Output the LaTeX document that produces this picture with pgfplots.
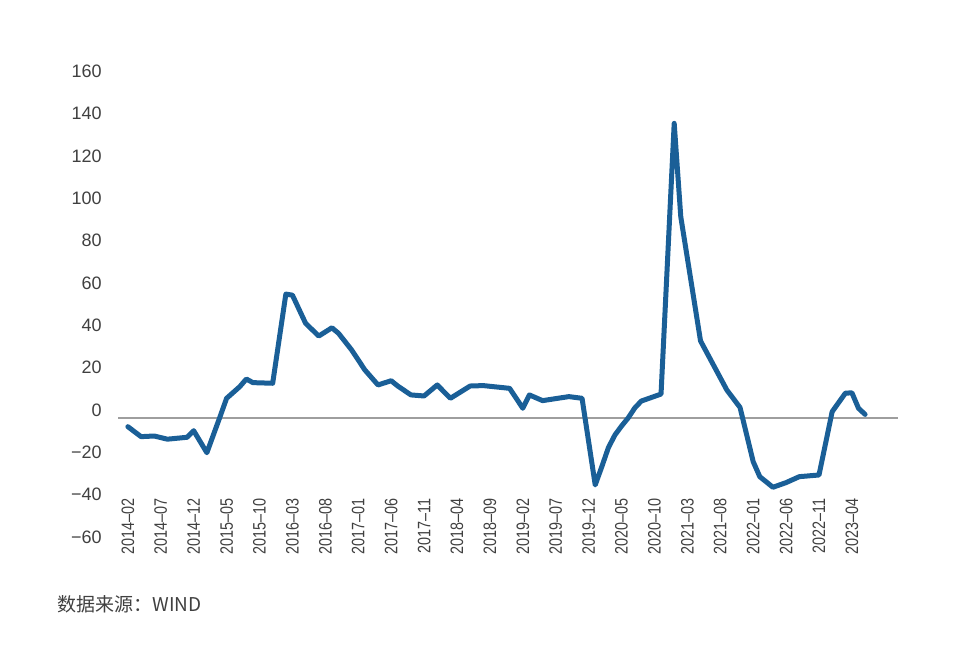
\documentclass[border=0pt]{standalone}
\usepackage{pgfplots}
\pgfplotsset{compat=1.18}
\usepackage{fontspec}
\setmainfont{Liberation Sans}
\newfontfamily\cjk{Noto Sans CJK SC}
\definecolor{lineblue}{HTML}{1A5F97}
\definecolor{txt}{HTML}{404040}
\newcommand\xl[1]{\scalebox{0.8}[1]{#1}}
\begin{document}
\begin{tikzpicture}
\useasboundingbox (0,0) rectangle (480pt,326.5pt);
\begin{axis}[
  at={(59pt,53.95pt)}, anchor=south west,
  scale only axis, width=390pt, height=233pt,
  xmin=-1.5, xmax=117, ymin=-60, ymax=160,
  axis line style={draw=none},
  major tick length=0pt,
  ytick={-60,-40,...,160},
  yticklabels={−60,−40,−20,0,20,40,60,80,100,120,140,160},
  yticklabel style={anchor=east, inner sep=0pt, xshift=-8pt, yshift=4pt, font=\fontsize{9}{10}\selectfont, text=txt},
  xtick={0,5,...,110},
  xticklabels={\xl{2014–02},\xl{2014–07},\xl{2014–12},\xl{2015–05},\xl{2015–10},\xl{2016–03},\xl{2016–08},\xl{2017–01},\xl{2017–06},\xl{2017–11},\xl{2018–04},\xl{2018–09},\xl{2019–02},\xl{2019–07},\xl{2019–12},\xl{2020–05},\xl{2020–10},\xl{2021–03},\xl{2021–08},\xl{2022–01},\xl{2022–06},\xl{2022–11},\xl{2023–04}},
  xticklabel style={rotate=90, anchor=east, inner sep=0pt, font=\fontsize{9}{10}\selectfont, text=txt},
  xticklabel shift=-23.5pt,
  extra y ticks={0},
  extra y tick labels={},
  extra y tick style={grid=major, major grid style={draw=black!38, line width=0.6pt}},
  clip=false,
]
\addplot[lineblue, line width=2.5pt, line join=round, line cap=round] coordinates {
(0,-4.1) (2,-8.8) (4,-8.5) (6,-10.0) (9,-9.1) (10,-6.0) (12,-16.4) (14,0.6)
(15,9.3) (17,14.8) (18,18.4) (19,16.7) (22,16.4) (24,58.5) (25,58.0) (27,44.7)
(29,38.7) (31,42.6) (32,40.0) (34,32.1) (36,22.7) (38,15.6) (40,17.6) (41,15.1)
(43,10.9) (45,10.4) (47,15.6) (49,9.3) (52,15.1) (54,15.3) (58,14.0) (60,4.6)
(61,10.9) (63,8.2) (67,10.1) (69,9.3) (71,-31.6) (72,-23.0) (73,-14.0) (74,-8.0)
(75,-3.8) (76,0.0) (77,4.7) (78,8.0) (81,11.3) (83,139.1) (84,95.0) (87,36.4)
(91,13.2) (93,5.0) (95,-20.6) (96,-27.7) (98,-32.7) (100,-30.5) (102,-27.7)
(105,-26.9) (107,3.0) (109,11.7) (110,11.9) (111,4.6) (112,1.7)
};
\end{axis}
\node[anchor=west, inner sep=0pt, font=\cjk\fontsize{9.5}{11}\selectfont, text=txt] at (28.5pt,24.5pt) {数据来源：WIND};
\end{tikzpicture}
\end{document}
